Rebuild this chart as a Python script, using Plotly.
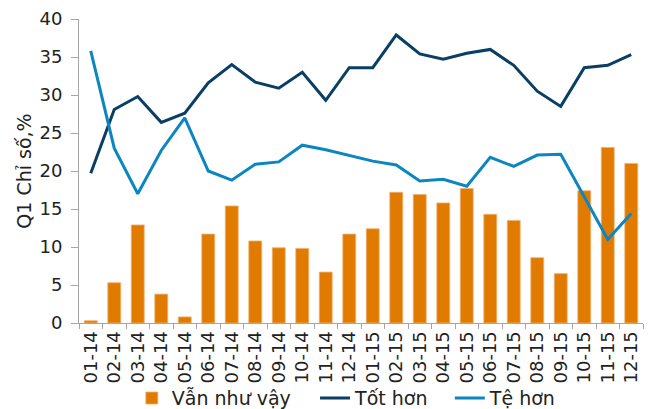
import plotly.graph_objects as go

categories = ["01-14","02-14","03-14","04-14","05-14","06-14","07-14","08-14","09-14","10-14","11-14","12-14",
              "01-15","02-15","03-15","04-15","05-15","06-15","07-15","08-15","09-15","10-15","11-15","12-15"]
van_nhu_vay = [0.3, 5.3, 12.9, 3.8, 0.8, 11.7, 15.4, 10.8, 9.9, 9.8, 6.7, 11.7,
               12.4, 17.2, 16.9, 15.8, 17.7, 14.3, 13.5, 8.6, 6.5, 17.4, 23.1, 21.0]
tot_hon = [19.7, 28.1, 29.8, 26.4, 27.6, 31.6, 34.0, 31.7, 30.9, 33.0, 29.3, 33.6,
           33.6, 37.9, 35.4, 34.7, 35.5, 36.0, 33.9, 30.5, 28.5, 33.6, 33.9, 35.3]
te_hon = [35.8, 23.0, 17.0, 22.7, 27.0, 20.0, 18.8, 20.9, 21.2, 23.4, 22.8, 22.0,
          21.3, 20.8, 18.7, 18.9, 18.0, 21.8, 20.6, 22.1, 22.2, 16.6, 11.0, 14.4]
y_ticks = [0, 5, 10, 15, 20, 25, 30, 35, 40]

font = "DejaVu Sans, Verdana, sans-serif"

fig = go.Figure()
fig.add_trace(go.Bar(x=categories, y=van_nhu_vay, name="Vẫn như vậy", legend="legend",
                     marker=dict(color="#E07B00", line=dict(color="#F2B070", width=0.8))))
fig.add_trace(go.Scatter(x=categories, y=tot_hon, name="Tốt hơn", mode="lines", legend="legend2",
                         line=dict(color="#0A3F63", width=3)))
fig.add_trace(go.Scatter(x=categories, y=te_hon, name="Tệ hơn", mode="lines", legend="legend3",
                         line=dict(color="#0C86C0", width=3)))

def leg(x):
    return dict(orientation="h", xref="container", yref="container",
                x=x, xanchor="left", y=0.027, yanchor="middle",
                bgcolor="rgba(0,0,0,0)", font=dict(size=19))

# figure div sits at an 8px body offset in the page
fig.update_layout(
    width=645, height=401,
    margin=dict(l=71, r=10, t=11, b=86, autoexpand=False),
    paper_bgcolor="white", plot_bgcolor="white",
    font=dict(family=font, size=18, color="#222222"),
    bargap=0.45,
    showlegend=True,
    legend=leg(0.192), legend2=leg(0.476), legend3=leg(0.685),
    xaxis=dict(type="category", tickangle=-90, showline=True, linecolor="#A6A6A6", linewidth=1,
               ticks="outside", tickson="boundaries", ticklen=5, tickcolor="#A6A6A6",
               showgrid=False, tickfont=dict(size=18), automargin=False),
    yaxis=dict(range=[0, 40], tickvals=y_ticks, showline=True, linecolor="#A6A6A6", linewidth=1,
               ticks="outside", ticklen=7, tickcolor="#A6A6A6", showgrid=False, zeroline=False,
               ticklabelstandoff=5, ticklabeloverflow="allow",
               title=dict(text="Q1 Chỉ số,%", font=dict(size=19), standoff=2),
               tickfont=dict(size=18), automargin=False),
)

fig.write_html("out.html")
